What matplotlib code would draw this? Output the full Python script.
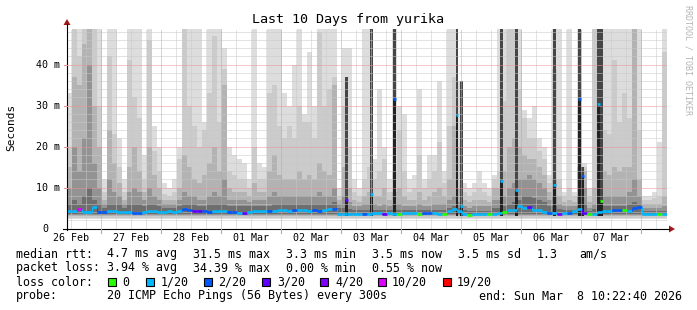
import numpy as np
import matplotlib
matplotlib.use('Agg')
import matplotlib.pyplot as plt
from matplotlib.patches import Rectangle, Polygon

plt.rcParams['font.family'] = ['DejaVu Sans Mono']

# ---------------- data (2-hour bins, 10 days, start Feb 26 10:22:40) ----------------
smoke_max = [33, 49, 49, 49, 49, 49, 49,
             12, 49, 49, 22, 12, 49, 49, 49, 18, 49, 25, 20,
             11, 10, 12, 20, 49, 49, 49, 49, 26, 49, 49, 49,
             44, 20, 18, 17, 16, 12, 49, 16, 15, 49, 49, 49, 33, 30, 40, 49, 28, 43, 30, 49, 49, 49, 49,
             10, 44, 44, 12, 10, 49, 49, 17, 34, 20, 12, 49, 30, 28, 12, 13, 34, 12, 18, 18,
             36, 14, 49, 49, 36, 11, 10, 11, 14, 11, 10, 13, 49, 49, 49, 49, 49, 29, 27, 30,
             22, 20, 13, 49, 49, 9, 49, 9, 49, 16, 10, 49, 49, 49, 49, 49, 49, 49, 49, 49,
             49, 8, 8, 9, 21, 49]
smoke_p18 = [20, 49, 42, 49, 49, 49, 30,
             9, 42, 23, 15, 9, 41, 32, 27, 12, 46, 19, 14,
             8.5, 8, 9, 17, 49, 30, 25, 20, 24, 33, 47, 26,
             39, 14, 13, 12, 12, 10, 20, 12, 12, 33, 35, 25, 22, 25, 22, 30, 26, 26, 22, 48, 30, 34, 37,
             8, 30, 20, 9, 8, 12, 15, 12, 14, 17, 9, 14, 24, 14, 9, 10, 18, 10, 12, 14,
             21, 11, 25, 37, 20, 9, 8, 9, 10, 9, 8, 12, 14, 31, 49, 49, 34, 27, 22, 22,
             19, 17, 11, 39, 12, 8, 10, 8, 30, 15, 8, 49, 49, 24, 23, 41, 26, 33, 27, 49,
             24, 7, 7, 7.5, 8, 43]
smoke_p15 = [15, 37, 35, 45, 49, 30, 20,
             7, 24, 16, 11, 7, 15, 20, 14, 9, 20, 13, 10,
             7, 7, 7, 10, 18, 15, 12, 11, 13, 16, 20, 14,
             35, 10, 9, 9, 9, 8, 11, 9, 9, 14, 18, 13, 12, 12, 12, 14, 12, 13, 12, 16, 14, 13, 35,
             7, 15, 10, 7, 6.5, 8, 9, 8, 8, 10, 7, 9, 10, 8, 7, 7, 9, 7, 8, 9,
             10, 8, 12, 25, 10, 7, 6.5, 7, 7, 7, 6.5, 10, 10, 14, 20, 22, 20, 18, 17, 17,
             15, 13, 9, 12, 8, 6.5, 7, 6.5, 15, 14, 6.5, 10, 14, 14, 13, 15, 14, 15, 15, 49,
             12, 6, 6, 6, 6, 8]
smoke_p12 = [10, 20, 14, 22, 40, 16, 10,
             6, 12, 9, 8, 6, 9, 10, 9, 7, 10, 8, 7,
             6, 6, 6, 7, 9, 8, 8, 7, 7, 8, 9, 8,
             12, 7, 7, 7, 7, 6.5, 7, 7, 7, 8, 9, 8, 8, 8, 8, 8, 8, 8, 8, 9, 8, 8, 10,
             6, 8, 6.5, 5.5, 5.5, 6, 6, 6, 5.5, 6, 5.5, 6, 6, 5.5, 5.5, 5.5, 6, 5.5, 5.5, 6,
             6, 6, 7, 8, 6.5, 5.5, 5, 5.5, 5.5, 5.5, 5.5, 7, 7, 8, 10, 11, 12, 12, 13, 12,
             11, 10, 7, 8, 6, 5.5, 5.5, 5.5, 8, 10, 5, 6, 8, 8, 8, 8, 8, 8, 9, 12,
             8, 5, 5, 5, 5, 5.5]
smoke_p11 = [6, 7, 6, 8, 10, 7, 6,
             5, 6, 6, 6, 5, 6, 6, 6, 5.5, 6, 6, 5.5,
             5, 5, 5, 5.5, 6, 6, 6, 5.5, 5.5, 6, 6, 6,
             6, 5.5, 5.5, 5.5, 5.5, 5.5, 5.5, 5.5, 5.5, 5.5, 6, 6, 6, 6, 6, 6, 6, 6, 6, 6, 6, 6, 6.5,
             5, 5, 4.8, 4.5, 4.5, 4.5, 4.5, 4.5, 4.5, 4.5, 4.5, 4.5, 4.5, 4.5, 4.5, 4.5, 4.5, 4.5, 4.5, 4.5,
             4.5, 4.5, 5, 5.5, 5, 4.5, 4.2, 4.3, 4.3, 4.3, 4.3, 5, 5, 5.5, 6, 6.5, 7, 8, 8, 7.5,
             7, 6.5, 5.5, 5.5, 4.8, 4.5, 4.5, 4.5, 5.5, 6, 4.3, 4.8, 5.5, 5.5, 5.5, 5.5, 5.5, 5.5, 6, 6.5,
             6, 4.3, 4.3, 4.3, 4.3, 4.3]
median_ms = [4.3, 4.2, 4.8, 4.1, 4.1, 5.2, 4.0,
             4.0, 4.3, 4.2, 4.0, 4.0, 4.1, 3.9, 3.9, 4.1, 4.2, 4.2, 4.1,
             4.1, 4.2, 4.1, 4.3, 4.8, 4.6, 4.2, 4.2, 4.2, 4.1, 4.3, 4.3,
             4.3, 4.0, 4.0, 3.8, 3.8, 4.1, 4.2, 4.3, 4.2, 4.3, 4.3, 4.4, 4.4, 4.3, 4.5, 4.4, 4.4, 4.3, 4.4, 4.3, 4.6, 4.7, 4.8,
             3.5, 3.6, 3.5, 3.6, 3.6, 3.6, 3.6, 3.7, 3.7, 3.6, 3.7, 3.6, 3.5, 3.7, 3.7, 3.7, 3.6, 3.7, 3.7, 3.7,
             3.6, 3.6, 4.3, 4.7, 4.3, 3.6, 3.4, 3.5, 3.5, 3.5, 3.5, 3.6, 3.8, 4.0, 4.5, 4.5, 5.4, 5.0, 5.2, 4.6,
             4.4, 4.1, 3.9, 3.8, 3.6, 3.7, 3.7, 4.2, 4.8, 3.7, 3.5, 3.6, 4.0, 4.2, 4.3, 4.5, 4.5, 4.6, 4.3, 5.0,
             5.3, 3.6, 3.5, 3.6, 3.5, 3.6]
loss_cnt = [1, 1, 10, 1, 1, 1, 2,
            2, 1, 1, 1, 1, 1, 2, 2, 1, 1, 1, 1,
            1, 1, 1, 1, 2, 2, 3, 3, 2, 2, 1, 1,
            1, 2, 2, 1, 3, 1, 1, 1, 1, 2, 1, 1, 1, 1, 2, 1, 1, 1, 2, 2, 1, 1, 2,
            1, 1, 1, 1, 1, 2, 1, 1, 1, 3, 1, 1, 0, 1, 1, 1, 0, 2, 2, 1,
            1, 0, 1, 1, 1, 1, 0, 1, 1, 1, 0, 1, 1, 0, 1, 1, 1, 1, 3, 1,
            1, 1, 2, 1, 4, 1, 2, 1, 1, 3, 0, 1, 1, 1, 1, 2, 2, 0, 1, 2,
            2, 1, 1, 1, 0, 1]

# short excursions of the median (hour offset from start)
spike_hour = [111.8, 121.8, 131.0, 156.0, 157.8, 173.8, 179.8, 195.0, 205.0, 206.2, 212.6, 213.8]
spike_med = [6.9, 8.5, 31.5, 27.8, 5.6, 11.5, 9.3, 10.7, 31.5, 12.7, 30.4, 6.6]
spike_top = [37, 49, 49, 49, 36, 49, 49, 49, 49, 15, 49, 49]
spike_loss = [3, 1, 2, 1, 1, 1, 1, 1, 2, 2, 1, 0]

day_labels = ['26 Feb', '27 Feb', '28 Feb', '01 Mar', '02 Mar', '03 Mar', '04 Mar', '05 Mar', '06 Mar', '07 Mar']
y_ticks = [0, 10, 20, 30, 40]
y_tick_labels = ['0', '10 m', '20 m', '30 m', '40 m']
first_midnight_h = 13.622  # hours from start to Feb 27 00:00

loss_levels = [0, 1, 2, 3, 4, 10, 19]
loss_names = ['0', '1/20', '2/20', '3/20', '4/20', '10/20', '19/20']
loss_colors = ['#26ff00', '#00b8ff', '#0059ff', '#5e00ff', '#7e00ff', '#dd00ff', '#ff0000']

def loss_color(n):
    c = loss_colors[0]
    for lv, col in zip(loss_levels, loss_colors):
        if n >= lv:
            c = col
    return c

# ---------------- figure ----------------
W, H = 697, 310
fig = plt.figure(figsize=(W / 100, H / 100), dpi=100)
fig.patch.set_facecolor('white')

Y0, PXMS = 228.5, 4.098
ax = fig.add_axes([67 / W, (H - Y0) / H, 600 / W, (Y0 - 28.5) / H])
ax.set_xlim(0, 240)
ax.set_ylim(0, 48.8)
ax.axis('off')

nb = len(median_ms)
edges = np.arange(nb) * 2.0
layers = [smoke_max, smoke_p18, smoke_p15, smoke_p12, smoke_p11]
shades = ['#dddddd', '#cbcbcb', '#b3b3b3', '#939393', '#6e6e6e']
floors = [2.2, 2.6, 3.0, 3.3, 3.6]
for vals, col, fl in zip(layers, shades, floors):
    v = np.minimum(np.array(vals, float), 48.8)
    ax.bar(edges, v - fl, bottom=fl, width=2.0, align='edge', color=col, linewidth=0, zorder=1)

# spikes (dark columns)
sw = 1.1
for h, m, t in zip(spike_hour, spike_med, spike_top):
    ax.bar(h, min(t, 48.8) - 3.0, bottom=3.0, width=sw, color='#464646', linewidth=0, zorder=1.5)
    ax.bar(h, m - 3.0, bottom=3.0, width=sw, color='#222222', linewidth=0, zorder=1.6)

# grid
dot = (0, (1, 1))
for v in np.arange(2, 49, 2):
    if v % 10 != 0:
        ax.axhline(v, color='#c8c8c8', lw=0.72, ls=dot, zorder=2)
for k in range(-1, 11):
    for q in (6, 12, 18):
        h = first_midnight_h + 24 * k + q
        if 0 < h < 240:
            ax.axvline(h, color='#c8c8c8', lw=0.72, ls=dot, zorder=2)
for v in (10, 20, 30, 40):
    ax.axhline(v, color='#f09090', lw=0.72, ls=dot, zorder=2.1)
for k in range(10):
    ax.axvline(first_midnight_h + 24 * k, color='#f09090', lw=0.72, ls=dot, zorder=2.1)

# median line coloured by loss
for i in range(nb):
    ax.hlines(median_ms[i], edges[i], edges[i] + 2.0, color=loss_color(loss_cnt[i]), lw=1.9, zorder=3)
for i in range(1, nb):
    ax.vlines(edges[i], min(median_ms[i - 1], median_ms[i]), max(median_ms[i - 1], median_ms[i]),
              color=loss_color(loss_cnt[i]), lw=0.8, zorder=3)
for h, m, l in zip(spike_hour, spike_med, spike_loss):
    ax.hlines(m, h - sw / 2, h + sw / 2, color=loss_color(l), lw=1.9, zorder=3.2)

# ---------------- overlay in pixel coordinates ----------------
ov = fig.add_axes([0, 0, 1, 1], zorder=5)
ov.set_xlim(0, W)
ov.set_ylim(H, 0)
ov.axis('off')
ov.patch.set_alpha(0)

ov.plot([67, 67], [229.5, 24], color='black', lw=0.8)
ov.add_patch(Polygon([(63.5, 25), (70.5, 25), (67, 19)], closed=True, color='#a01818', lw=0))
ov.plot([63, 669], [229, 229], color='black', lw=0.8)
ov.add_patch(Polygon([(669, 225.5), (669, 232.5), (675, 229)], closed=True, color='#a01818', lw=0))

px_per_h = 2.5
for k in range(10):
    x = 67 + (first_midnight_h + 24 * k) * px_per_h
    ov.plot([x, x], [229, 232.5], color='#f09090', lw=0.8)
for v in (10, 20, 30, 40):
    y = Y0 - v * PXMS
    ov.plot([63.5, 67], [y, y], color='#f09090', lw=0.8)

tick_fs = 7.2
for v, lab in zip(y_ticks, y_tick_labels):
    y = Y0 - v * PXMS
    xr = 60 if lab != '0' else 48
    ov.text(xr, y, lab, ha='right', va='center', fontsize=tick_fs)
for k, lab in enumerate(day_labels):
    x = 67 + (first_midnight_h - 12 + 24 * k) * px_per_h
    ov.text(x, 238, lab, ha='center', va='center', fontsize=tick_fs)

ov.text(347.5, 20, 'Last 10 Days from yurika', ha='center', va='center', fontsize=9.6)
ov.text(11.5, 127, 'Seconds', ha='center', va='center', rotation=90, fontsize=8)
ov.text(688, 60, 'RRDTOOL / TOBI OETIKER', ha='center', va='center', rotation=-90,
        fontsize=6, color='#b4b4b4')

fs = 8.4
rows = [
    (254, [('median rtt:', 16), ('4.7 ms avg', 107), ('31.5 ms max', 193), ('3.3 ms min', 286),
           ('3.5 ms now', 372), ('3.5 ms sd', 458), ('1.3', 537), ('am/s', 579)]),
    (268, [('packet loss:', 16), ('3.94 % avg', 107), ('34.39 % max', 193), ('0.00 % min', 286),
           ('0.55 % now', 372)]),
    (282, [('loss color:', 16)]),
    (296, [('probe:', 16), ('20 ICMP Echo Pings (56 Bytes) every 300s', 107),
           ('end: Sun Mar  8 10:22:40 2026', 479)]),
]
for y, items in rows:
    for s, x in items:
        ov.text(x, y, s, ha='left', va='center', fontsize=fs)

sq_x = [108, 146, 204, 262, 320, 378, 443]
lab_x = [122, 161, 218, 277, 335, 392, 457]
for col, name, sx, lx in zip(loss_colors, loss_names, sq_x, lab_x):
    ov.add_patch(Rectangle((sx, 278), 8, 8, facecolor=col, edgecolor='black', lw=0.8))
    ov.text(lx, 282, name, ha='left', va='center', fontsize=fs)

fig.savefig('out.png', dpi=100, facecolor='white')
